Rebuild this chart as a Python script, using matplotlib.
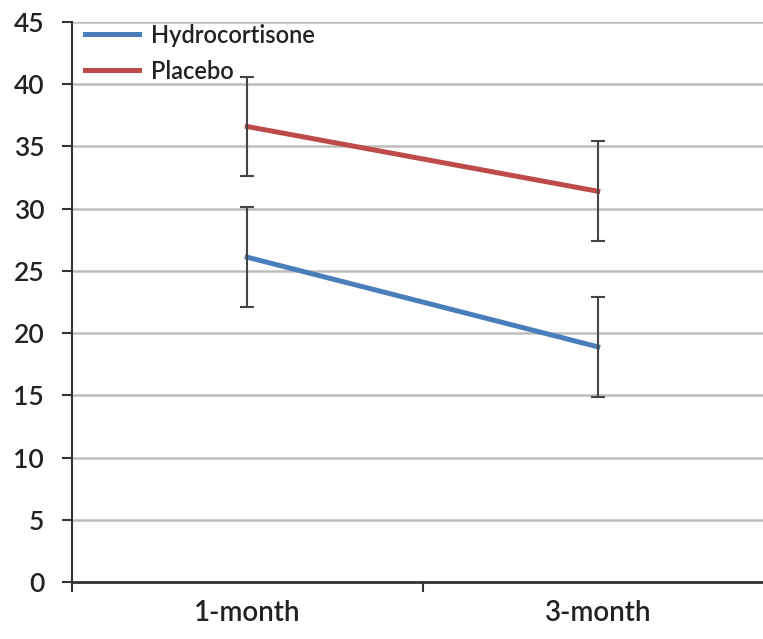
import matplotlib.pyplot as plt
import numpy as np

# Dados
categories = ['1-month', '3-month']
hydro_mean = [26.1, 18.9]
hydro_err = [4.0, 4.0]
placebo_mean = [36.6, 31.4]
placebo_err = [4.0, 4.0]

x = np.arange(len(categories))

plt.rcParams['font.family'] = ['Lato', 'DejaVu Sans']

fig = plt.figure(figsize=(7.63, 6.39), dpi=100)
ax = fig.add_axes([72 / 763, 1 - 582 / 639, (773 - 72) / 763, (582 - 22) / 639])

# grid
ax.set_ylim(0, 45)
ax.set_yticks(range(0, 46, 5))
ax.yaxis.grid(True, color='#bdbdbd', linewidth=1.8)
ax.set_axisbelow(True)

# linhas
ax.plot(x, hydro_mean, color='#4a7ebb', linewidth=3.6, label='Hydrocortisone', zorder=3)
ax.plot(x, placebo_mean, color='#be4b48', linewidth=3.6, label='Placebo', zorder=3)

# barras de erro
ax.errorbar(x, hydro_mean, yerr=hydro_err, fmt='none', ecolor='#454545',
            elinewidth=1.5, capsize=5, capthick=1.5, zorder=4)
ax.errorbar(x, placebo_mean, yerr=placebo_err, fmt='none', ecolor='#454545',
            elinewidth=1.5, capsize=5, capthick=1.5, zorder=4)

ax.set_xlim(-0.5, 1.5)
ax.set_xticks(x)
ax.set_xticklabels(categories, fontsize=20, fontweight='semibold', color='#222222')
ax.set_xticks([-0.5, 0.5, 1.5], minor=True)
ax.tick_params(axis='x', which='major', length=0, pad=13)
ax.tick_params(axis='x', which='minor', length=7, width=1.5, color='#333333', direction='out')
ax.tick_params(axis='y', length=7, width=1.5, color='#333333', labelsize=19, pad=13,
               labelcolor='#222222')
for lbl in ax.get_yticklabels():
    lbl.set_fontweight('semibold')

for s in ['top', 'right']:
    ax.spines[s].set_visible(False)
ax.spines['left'].set_linewidth(1.5)
ax.spines['left'].set_color('#333333')
ax.spines['bottom'].set_linewidth(2)
ax.spines['bottom'].set_color('#333333')

leg = ax.legend(loc='upper left', bbox_to_anchor=(-0.012, 1.035), frameon=False,
                handlelength=2.3, labelspacing=0.55, handletextpad=0.5,
                prop={'size': 17, 'weight': 'semibold'})
for t in leg.get_texts():
    t.set_color('#222222')

fig.savefig('out.png', dpi=100)
